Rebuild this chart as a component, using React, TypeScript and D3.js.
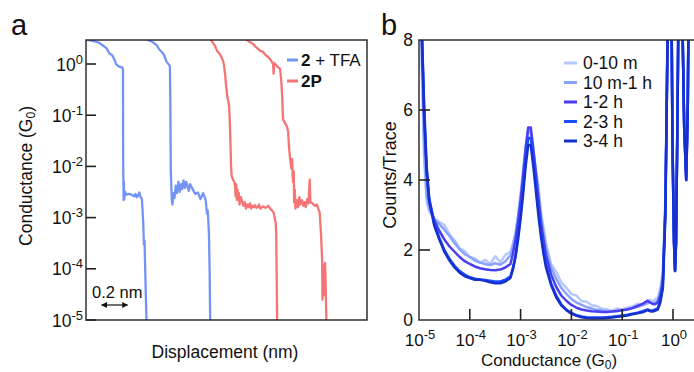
import { useEffect, useRef } from 'react';
import * as d3 from 'd3';

const WIDTH = 694;
const HEIGHT = 372;
const FONT = '"Liberation Sans", Arial, Helvetica, sans-serif';

// ---- panel a: conductance traces, [displacement (nm), conductance (G0)]
const traceTfa1: [number, number][] = [
    [0.0, 3.0], [0.03, 2.9], [0.06, 2.8], [0.1, 2.6], [0.14, 2.2], [0.16, 2.0], [0.18, 1.6], [0.2, 1.5],
    [0.22, 1.2], [0.23, 1.0], [0.25, 0.9], [0.28, 0.85], [0.284, 0.8], [0.286, 0.01], [0.289, 2.2e-3],
    [0.291, 5e-3], [0.294, 2.3e-3], [0.3, 3.2e-3], [0.31, 2.8e-3], [0.33, 2.9e-3], [0.35, 2.8e-3],
    [0.37, 2.6e-3], [0.38, 2.9e-3], [0.39, 2.5e-3], [0.4, 2.7e-3], [0.41, 3.1e-3], [0.42, 2.5e-3],
    [0.43, 2.3e-3], [0.436, 1.2e-3], [0.44, 8e-4], [0.445, 3e-4], [0.45, 3.5e-4], [0.455, 1e-4],
    [0.46, 3e-5], [0.465, 1e-5], [0.472, 8e-6],
];
const traceTfa2: [number, number][] = [
    [0.47, 3.0], [0.5, 2.8], [0.52, 2.6], [0.545, 2.3], [0.565, 1.9], [0.585, 1.7], [0.6, 1.5], [0.62, 1.1],
    [0.64, 0.95], [0.645, 0.9], [0.648, 0.2], [0.652, 8e-3], [0.656, 4e-3], [0.66, 2.2e-3], [0.665, 1.8e-3],
    [0.67, 3e-3], [0.68, 2.4e-3], [0.69, 4.2e-3], [0.7, 3e-3], [0.71, 5e-3], [0.72, 3.2e-3], [0.73, 4.5e-3],
    [0.74, 3.6e-3], [0.75, 5.3e-3], [0.76, 3.8e-3], [0.77, 5e-3], [0.78, 4.2e-3], [0.79, 3.3e-3],
    [0.8, 4.5e-3], [0.82, 3.6e-3], [0.84, 2.9e-3], [0.86, 3.1e-3], [0.88, 2.3e-3], [0.9, 3.0e-3],
    [0.91, 2.6e-3], [0.92, 2.2e-3], [0.93, 1.2e-3], [0.935, 1.4e-3], [0.94, 9e-4], [0.945, 5e-4],
    [0.95, 1e-4], [0.955, 8e-6],
];
const trace2P1: [number, number][] = [
    [0.955, 3.2], [0.962, 2.9], [0.98, 2.5], [0.992, 2.25], [1.0, 2.0], [1.008, 1.8], [1.03, 1.55],
    [1.045, 1.3], [1.054, 1.15], [1.062, 0.9], [1.07, 0.6], [1.077, 0.37], [1.082, 0.3], [1.085, 0.24],
    [1.09, 0.21], [1.095, 0.18], [1.1, 0.15], [1.105, 0.08], [1.108, 0.047], [1.112, 0.02], [1.115, 0.01],
    [1.12, 6.5e-3], [1.13, 5.5e-3], [1.14, 5e-3], [1.146, 4.2e-3], [1.15, 2.6e-3], [1.155, 4.5e-3],
    [1.16, 2.2e-3], [1.165, 3.5e-3], [1.17, 2.4e-3], [1.175, 3e-3], [1.18, 1.8e-3], [1.19, 2.5e-3],
    [1.2, 2.1e-3], [1.21, 1.7e-3], [1.22, 2e-3], [1.23, 1.5e-3], [1.24, 1.8e-3], [1.25, 1.6e-3],
    [1.26, 1.9e-3], [1.27, 1.5e-3], [1.28, 1.7e-3], [1.29, 1.6e-3], [1.3, 1.75e-3], [1.31, 1.55e-3],
    [1.32, 1.6e-3], [1.33, 1.8e-3], [1.34, 1.5e-3], [1.36, 1.65e-3], [1.38, 1.55e-3], [1.4, 1.7e-3],
    [1.42, 1.45e-3], [1.44, 1.3e-3], [1.45, 1e-3], [1.458, 8e-4], [1.462, 5e-4], [1.465, 1e-4], [1.47, 8e-6],
];
const trace2P2: [number, number][] = [
    [1.23, 3.2], [1.24, 2.9], [1.26, 2.7], [1.285, 2.45], [1.3, 2.2], [1.323, 1.97], [1.34, 1.8],
    [1.362, 1.72], [1.38, 1.5], [1.4, 1.37], [1.42, 1.2], [1.438, 1.0], [1.442, 0.65], [1.446, 1.05],
    [1.46, 0.95], [1.469, 0.91], [1.48, 0.85], [1.492, 0.8], [1.5, 0.5], [1.508, 0.24], [1.512, 0.12],
    [1.515, 0.083], [1.53, 0.07], [1.545, 0.06], [1.554, 0.047], [1.56, 0.025], [1.569, 0.0138],
    [1.58, 9e-3], [1.585, 0.014], [1.588, 7e-3], [1.592, 4.9e-3], [1.597, 8e-3], [1.6, 2e-3],
    [1.605, 3.5e-3], [1.61, 1.5e-3], [1.62, 2.2e-3], [1.63, 1.6e-3], [1.64, 2.5e-3], [1.646, 1.8e-3],
    [1.66, 2.2e-3], [1.67, 1.7e-3], [1.68, 2e-3], [1.69, 1.6e-3], [1.7, 2.3e-3], [1.71, 1.9e-3],
    [1.72, 5.5e-3], [1.725, 2e-3], [1.74, 1.9e-3], [1.76, 1.7e-3], [1.775, 1.8e-3], [1.785, 1.5e-3],
    [1.795, 1.3e-3], [1.8, 9e-4], [1.808, 4e-4], [1.815, 1.5e-4], [1.818, 2.5e-5], [1.822, 1.1e-4],
    [1.826, 3e-5], [1.83, 1.1e-4], [1.838, 1.3e-4], [1.842, 5e-5], [1.848, 9e-6],
];
const decadesA = [0, -1, -2, -3, -4, -5];

// ---- panel b: conductance histograms (log10 G/G0 vs counts per trace)
const logG = [
    -5.0, -4.95, -4.9, -4.85, -4.8,
    -4.7, -4.6, -4.5, -4.4, -4.3, -4.2, -4.1, -4.0, -3.9, -3.8, -3.7, -3.6, -3.5, -3.4, -3.3, -3.2,
    -3.15, -3.1, -3.05, -3.0, -2.95, -2.9, -2.85, -2.8, -2.75, -2.7, -2.65, -2.6, -2.55, -2.5,
    -2.4, -2.3, -2.2, -2.1, -2.0, -1.9, -1.8, -1.7, -1.6, -1.5, -1.4, -1.3, -1.2, -1.1, -1.0, -0.9, -0.8, -0.7, -0.6, -0.5,
    -0.45, -0.4, -0.35, -0.3, -0.25, -0.2, -0.15,
    -0.12, -0.1, -0.06, -0.03, -0.01, 0.02, 0.04, 0.06, 0.09, 0.12, 0.15, 0.18, 0.22, 0.26, 0.29, 0.32, 0.4,
];
const counts0to10m = [
    12, 7.5, 4.6, 3.4, 3.1,
    2.9, 2.8, 2.72, 2.45, 2.28, 2.05, 1.97, 1.8, 1.76, 1.64, 1.72, 1.6, 1.82, 1.66, 1.86, 1.95,
    2.2, 2.5, 3.0, 3.6, 4.3, 5.0, 5.45, 5.35, 4.85, 4.3, 3.85, 3.1, 2.65, 2.2,
    1.6, 1.38, 1.08, 0.92, 0.74, 0.7, 0.54, 0.52, 0.42, 0.4, 0.32, 0.31, 0.26, 0.33, 0.3, 0.36, 0.38, 0.46, 0.44, 0.55,
    0.58, 0.52, 0.6, 0.64, 0.9, 1.4, 3.5,
    6.8, 9, 14, 9, 5, 2.2, 1.4, 2.2, 6, 11, 12, 9, 5.5, 4.0, 6, 11, 14,
];
const counts10mto1h = [
    12, 8.0, 5.0, 3.6, 3.2,
    2.88, 2.74, 2.58, 2.4, 2.2, 2.02, 1.88, 1.8, 1.7, 1.64, 1.6, 1.57, 1.62, 1.58, 1.68, 1.85,
    2.1, 2.45, 2.95, 3.5, 4.2, 4.9, 5.4, 5.35, 4.8, 4.25, 3.6, 2.95, 2.5, 2.05,
    1.5, 1.18, 0.92, 0.75, 0.6, 0.5, 0.43, 0.37, 0.33, 0.29, 0.27, 0.25, 0.25, 0.26, 0.28, 0.31, 0.34, 0.38, 0.42, 0.48,
    0.5, 0.47, 0.5, 0.56, 0.8, 1.25, 3.3,
    6.6, 9, 14, 9, 5, 2.2, 1.4, 2.2, 6, 11, 12, 9, 5.5, 4.0, 6, 11, 14,
];
const counts1to2h = [
    12, 8.4, 5.8, 4.2, 3.4,
    2.85, 2.55, 2.3, 2.1, 1.95, 1.8, 1.68, 1.6, 1.53, 1.48, 1.45, 1.43, 1.42, 1.44, 1.5, 1.6,
    1.9, 2.3, 2.8, 3.4, 4.1, 4.9, 5.5, 5.5, 4.9, 4.2, 3.5, 2.8, 2.3, 1.85,
    1.3, 0.95, 0.7, 0.55, 0.43, 0.35, 0.3, 0.27, 0.25, 0.24, 0.23, 0.23, 0.24, 0.26, 0.28, 0.3, 0.34, 0.4, 0.46, 0.55,
    0.5, 0.46, 0.45, 0.5, 0.7, 1.1, 3.2,
    6.5, 9, 14, 9, 5, 2.2, 1.4, 2.2, 6, 11, 12, 9, 5.5, 4.0, 6, 11, 14,
];
const counts2to3h = [
    12, 8.6, 6.2, 4.4, 3.5,
    2.75, 2.35, 2.0, 1.75, 1.55, 1.4, 1.3, 1.22, 1.18, 1.16, 1.14, 1.12, 1.1, 1.1, 1.15, 1.25,
    1.5, 1.85, 2.4, 3.0, 3.8, 4.6, 5.2, 5.2, 4.6, 3.9, 3.2, 2.5, 2.0, 1.6,
    1.05, 0.7, 0.45, 0.3, 0.2, 0.14, 0.1, 0.08, 0.07, 0.07, 0.07, 0.08, 0.09, 0.11, 0.13, 0.15, 0.18, 0.21, 0.25, 0.3,
    0.28, 0.27, 0.3, 0.33, 0.55, 1.0, 3.1,
    6.6, 9.2, 14, 9.2, 5.1, 2.3, 1.45, 2.3, 6.1, 11, 12, 9, 5.6, 4.1, 6.1, 11, 14,
];
const counts3to4h = [
    12, 8.5, 6.0, 4.3, 3.4,
    2.7, 2.3, 1.95, 1.7, 1.5, 1.35, 1.25, 1.2, 1.15, 1.15, 1.12, 1.08, 1.05, 1.05, 1.1, 1.2,
    1.45, 1.8, 2.3, 2.9, 3.6, 4.4, 5.0, 5.0, 4.4, 3.7, 3.0, 2.4, 1.9, 1.5,
    1.0, 0.65, 0.42, 0.28, 0.18, 0.12, 0.08, 0.06, 0.05, 0.05, 0.05, 0.06, 0.07, 0.09, 0.11, 0.13, 0.16, 0.19, 0.22, 0.28,
    0.25, 0.24, 0.27, 0.3, 0.5, 0.9, 3.0,
    6.5, 9, 14, 9, 5, 2.2, 1.4, 2.2, 6, 11, 12, 9, 5.5, 4.0, 6, 11, 14,
];
const histLabels = ['0-10 m', '10 m-1 h', '1-2 h', '2-3 h', '3-4 h'];
const histColors = ['#b6c8ff', '#87a3ff', '#4a3df2', '#1d4cff', '#1530cc'];
const histCounts = [counts0to10m, counts10mto1h, counts1to2h, counts2to3h, counts3to4h];
const countTicks = [2, 4, 6];
const countLabels = [0, 2, 4, 6, 8];
const decadesB = [-5, -4, -3, -2, -1, 0];

const BLUE = '#7394f6';
const RED = '#f67474';

function powLabel(g: any, x: number, y: number, exp: number, anchor: string, size = 17.5) {
    const t = g
        .append('text')
        .attr('x', x)
        .attr('y', y)
        .attr('text-anchor', anchor)
        .attr('font-size', size)
        .attr('fill', '#111');
    t.append('tspan').text('10');
    t.append('tspan').attr('dy', -7).attr('font-size', 13).text(String(exp));
}

function g0Title(t: any, label: string) {
    t.append('tspan').text(label + ' (G');
    t.append('tspan').attr('font-size', 12).attr('dy', 2.5).text('0');
    t.append('tspan').attr('dy', -2.5).text(')');
}

export default function App() {
    const svgRef = useRef<SVGSVGElement>(null);

    useEffect(() => {
        if (!svgRef.current) return;
        const svg = d3.select(svgRef.current);
        svg.selectAll('*').remove();
        svg.attr('font-family', FONT);

        const defs = svg.append('defs');
        defs.append('clipPath').attr('id', 'clipA').append('rect').attr('x', 86).attr('y', 40).attr('width', 281).attr('height', 280);
        defs.append('clipPath').attr('id', 'clipB').append('rect').attr('x', 419).attr('y', 40).attr('width', 290).attr('height', 280);
        defs
            .append('marker')
            .attr('id', 'arrowHead')
            .attr('viewBox', '0 0 10 10')
            .attr('refX', 9)
            .attr('refY', 5)
            .attr('markerWidth', 6)
            .attr('markerHeight', 6)
            .attr('markerUnits', 'userSpaceOnUse')
            .attr('orient', 'auto-start-reverse')
            .append('path')
            .attr('d', 'M0,0L10,5L0,10Z')
            .attr('fill', '#111');

        // ================= panel a =================
        const xA = d3.scaleLinear().domain([0, 2.16]).range([86, 367]);
        const yA = d3.scaleLog().domain([1e-5, Math.pow(10, 0.469)]).range([320, 40]);

        const gA = svg.append('g');
        const lineA = d3
            .line<[number, number]>()
            .x((d) => xA(d[0]))
            .y((d) => yA(d[1]));

        const tracesA = [
            { data: traceTfa1, color: BLUE },
            { data: traceTfa2, color: BLUE },
            { data: trace2P1, color: RED },
            { data: trace2P2, color: RED },
        ];
        const tracesG = gA.append('g').attr('clip-path', 'url(#clipA)');
        tracesA.forEach((t) => {
            tracesG
                .append('path')
                .datum(t.data)
                .attr('d', lineA)
                .attr('fill', 'none')
                .attr('stroke', t.color)
                .attr('stroke-width', 2.3)
                .attr('stroke-linejoin', 'round');
        });

        // frame + ticks
        gA.append('rect').attr('x', 86).attr('y', 40).attr('width', 281).attr('height', 280)
            .attr('fill', 'none').attr('stroke', '#222').attr('stroke-width', 1.4);
        decadesA.forEach((e) => {
            const y = yA(Math.pow(10, e));
            gA.append('line').attr('x1', 86).attr('x2', 96).attr('y1', y).attr('y2', y)
                .attr('stroke', '#222').attr('stroke-width', 1.6);
            powLabel(gA, 83, y + 6.5, e, 'end');
        });

        // legend a
        const legA = [
            { bold: '2', rest: ' + TFA', color: BLUE, y: 60 },
            { bold: '2P', rest: '', color: RED, y: 81 },
        ];
        legA.forEach((l) => {
            gA.append('line').attr('x1', 287).attr('x2', 298).attr('y1', l.y).attr('y2', l.y)
                .attr('stroke', l.color).attr('stroke-width', 3);
            const t = gA.append('text').attr('x', 301).attr('y', l.y + 6).attr('font-size', 17).attr('fill', '#111');
            t.append('tspan').attr('font-weight', 'bold').text(l.bold);
            if (l.rest) t.append('tspan').attr('xml:space', 'preserve').text(l.rest);
        });

        // scale bar
        gA.append('text').attr('x', 92).attr('y', 298).attr('font-size', 16.5).attr('fill', '#111').text('0.2 nm');
        gA.append('line')
            .attr('x1', xA(0.12)).attr('x2', xA(0.32)).attr('y1', 305).attr('y2', 305)
            .attr('stroke', '#111').attr('stroke-width', 1.2)
            .attr('marker-end', 'url(#arrowHead)').attr('marker-start', 'url(#arrowHead)');

        // titles a
        const tyA = gA.append('text').attr('transform', 'translate(32,176) rotate(-90)')
            .attr('text-anchor', 'middle').attr('font-size', 17.5).attr('fill', '#111');
        g0Title(tyA, 'Conductance');
        gA.append('text').attr('x', 225).attr('y', 358).attr('text-anchor', 'middle')
            .attr('font-size', 17.5).attr('fill', '#111').text('Displacement (nm)');
        gA.append('text').attr('x', 11).attr('y', 35).attr('font-size', 29).attr('fill', '#111').text('a');

        // ================= panel b =================
        const xB = d3.scaleLog().domain([1e-5, Math.pow(10, 0.5)]).range([419, 419 + 5.5 * 50.8]);
        const yB = d3.scaleLinear().domain([0, 8]).range([320, 40]);
        const gB = svg.append('g');

        const lineB = d3
            .line<number>()
            .x((d, i) => xB(Math.pow(10, logG[i])))
            .y((d) => yB(d));

        const histG = gB.append('g').attr('clip-path', 'url(#clipB)');
        histCounts.forEach((c, i) => {
            histG
                .append('path')
                .datum(c)
                .attr('d', lineB)
                .attr('fill', 'none')
                .attr('stroke', histColors[i])
                .attr('stroke-width', 2.5)
                .attr('stroke-linejoin', 'round');
        });

        // frame
        gB.append('rect').attr('x', 419).attr('y', 40).attr('width', 290).attr('height', 280)
            .attr('fill', 'none').attr('stroke', '#222').attr('stroke-width', 1.4);
        countTicks.forEach((v) => {
            gB.append('line').attr('x1', 419).attr('x2', 430).attr('y1', yB(v)).attr('y2', yB(v))
                .attr('stroke', '#222').attr('stroke-width', 1.6);
        });
        countLabels.forEach((v) => {
            gB.append('text').attr('x', 413).attr('y', yB(v) + 6).attr('text-anchor', 'end')
                .attr('font-size', 17.5).attr('fill', '#111').text(v);
        });
        decadesB.forEach((e) => {
            const x = xB(Math.pow(10, e));
            if (e > -5) {
                gB.append('line').attr('x1', x).attr('x2', x).attr('y1', 320).attr('y2', 309)
                    .attr('stroke', '#222').attr('stroke-width', 1.6);
            }
            powLabel(gB, x + 1, 346, e, 'middle', 17);
        });

        // legend b
        histLabels.forEach((lab, i) => {
            const y = 63 + i * 19.5;
            gB.append('line').attr('x1', 564).attr('x2', 577).attr('y1', y).attr('y2', y)
                .attr('stroke', histColors[i]).attr('stroke-width', 3);
            gB.append('text').attr('x', 583).attr('y', y + 6).attr('font-size', 17.5).attr('fill', '#111').text(lab);
        });

        // titles b
        gB.append('text').attr('transform', 'translate(396,175) rotate(-90)')
            .attr('text-anchor', 'middle').attr('font-size', 18).attr('fill', '#111').text('Counts/Trace');
        const txB = gB.append('text').attr('x', 549).attr('y', 366).attr('text-anchor', 'middle')
            .attr('font-size', 17).attr('fill', '#111');
        g0Title(txB, 'Conductance');
        gB.append('text').attr('x', 381).attr('y', 35).attr('font-size', 29).attr('fill', '#111').text('b');
    }, []);

    return (
        <svg
            ref={svgRef}
            width={WIDTH}
            height={HEIGHT}
            style={{ position: 'absolute', left: 0, top: 0, background: '#fff' }}
        ></svg>
    );
}
